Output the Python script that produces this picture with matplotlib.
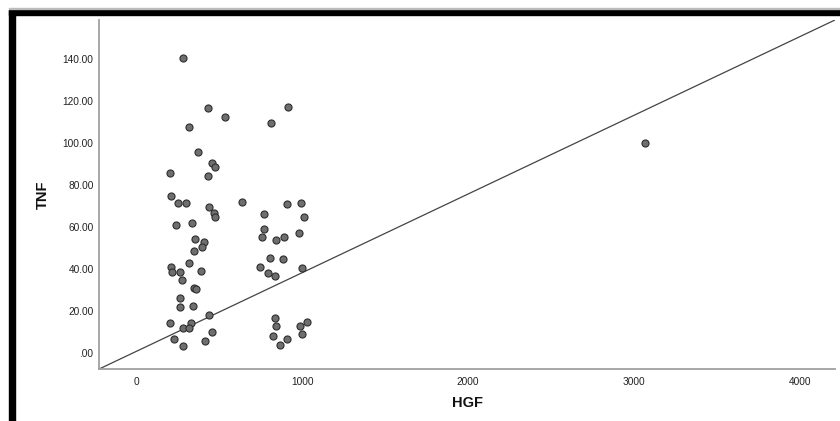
import matplotlib
matplotlib.use("Agg")
import matplotlib.pyplot as plt
from matplotlib.patches import Rectangle

# ---- data (HGF vs TNF) ----
hgf = [280, 432, 534, 317, 914, 815, 371, 458, 474, 207, 432,
       209, 255, 301, 442, 472, 478, 639, 771, 912, 996, 1012,
       239, 335, 771, 984, 761, 843, 892, 355, 408, 396, 347,
       319, 213, 219, 265, 392, 277, 807, 884, 749, 795, 837, 1002,
       349, 361, 267, 263, 343, 442, 203, 331, 285, 321, 460,
       231, 418, 285, 839, 843, 990, 1030, 827, 912, 998, 867,
       3066]
tnf = [140.5, 116.8, 112.2, 107.5, 117.1, 109.5, 95.9, 90.6, 88.6, 85.6, 84.3,
       74.8, 71.3, 71.4, 69.4, 66.5, 64.9, 71.9, 66.2, 71.1, 71.3, 64.8,
       61.0, 61.7, 59.2, 57.1, 55.1, 53.8, 55.1, 54.3, 53.0, 50.3, 48.4,
       42.7, 41.0, 38.6, 38.7, 39.2, 34.6, 45.2, 44.9, 41.0, 38.2, 36.7, 40.5,
       31.1, 30.3, 26.3, 21.9, 22.4, 18.3, 14.1, 14.4, 12.0, 12.0, 10.0,
       6.8, 5.7, 3.3, 16.8, 12.9, 12.9, 14.9, 7.9, 6.8, 8.9, 3.8,
       100.1]

x_ticks = [0, 1000, 2000, 3000, 4000]
y_ticks = [0, 20, 40, 60, 80, 100, 120, 140]
y_labels = [".00", "20.00", "40.00", "60.00", "80.00", "100.00", "120.00", "140.00"]

plt.rcParams["font.family"] = ["Liberation Sans", "DejaVu Sans"]

fig = plt.figure(figsize=(8.4, 4.21), dpi=100)
ax = fig.add_axes([0.118, 0.1235, 0.876, 0.829])

ax.scatter(hgf, tnf, s=26, facecolor="#6e6e6e", edgecolor="#2e2e2e",
           linewidths=0.8, zorder=3)

# diagonal reference line (corner to corner)
ax.plot([0, 1], [0, 1], transform=ax.transAxes, color="#444444", lw=0.9, zorder=2)

ax.set_xlim(-223, 4211)
ax.set_ylim(-7.6, 158.6)
ax.set_xticks(x_ticks)
ax.set_xticklabels([str(t) for t in x_ticks])
ax.set_yticks(y_ticks)
ax.set_yticklabels(y_labels)
ax.tick_params(length=0, labelsize=7.3, colors="#222222")
ax.tick_params(axis="x", pad=6)
ax.tick_params(axis="y", pad=4)

for side in ["top", "right"]:
    ax.spines[side].set_visible(False)
for side in ["left", "bottom"]:
    ax.spines[side].set_color("#a0a0a0")
    ax.spines[side].set_linewidth(1.3)

ax.set_xlabel("HGF", fontsize=10.5, fontweight="bold", color="#111111")
ax.set_ylabel("TNF", fontsize=10.5, fontweight="bold", color="#111111")
ax.xaxis.set_label_coords(0.5, -0.076)
ax.yaxis.set_label_coords(-0.0666, 0.5)

# black frame on the top and left edges, as in the screenshot
fig.patches.append(Rectangle((9 / 840, 0), 6 / 840, 411 / 421, transform=fig.transFigure,
                             color="black", zorder=5))
fig.patches.append(Rectangle((9 / 840, 406 / 421), 831 / 840, 5 / 421, transform=fig.transFigure,
                             color="black", zorder=5))
fig.patches.append(Rectangle((9 / 840, 412 / 421), 831 / 840, 1 / 421, transform=fig.transFigure,
                             color="#bbbbbb", zorder=5))

fig.savefig("out.png", dpi=100)
